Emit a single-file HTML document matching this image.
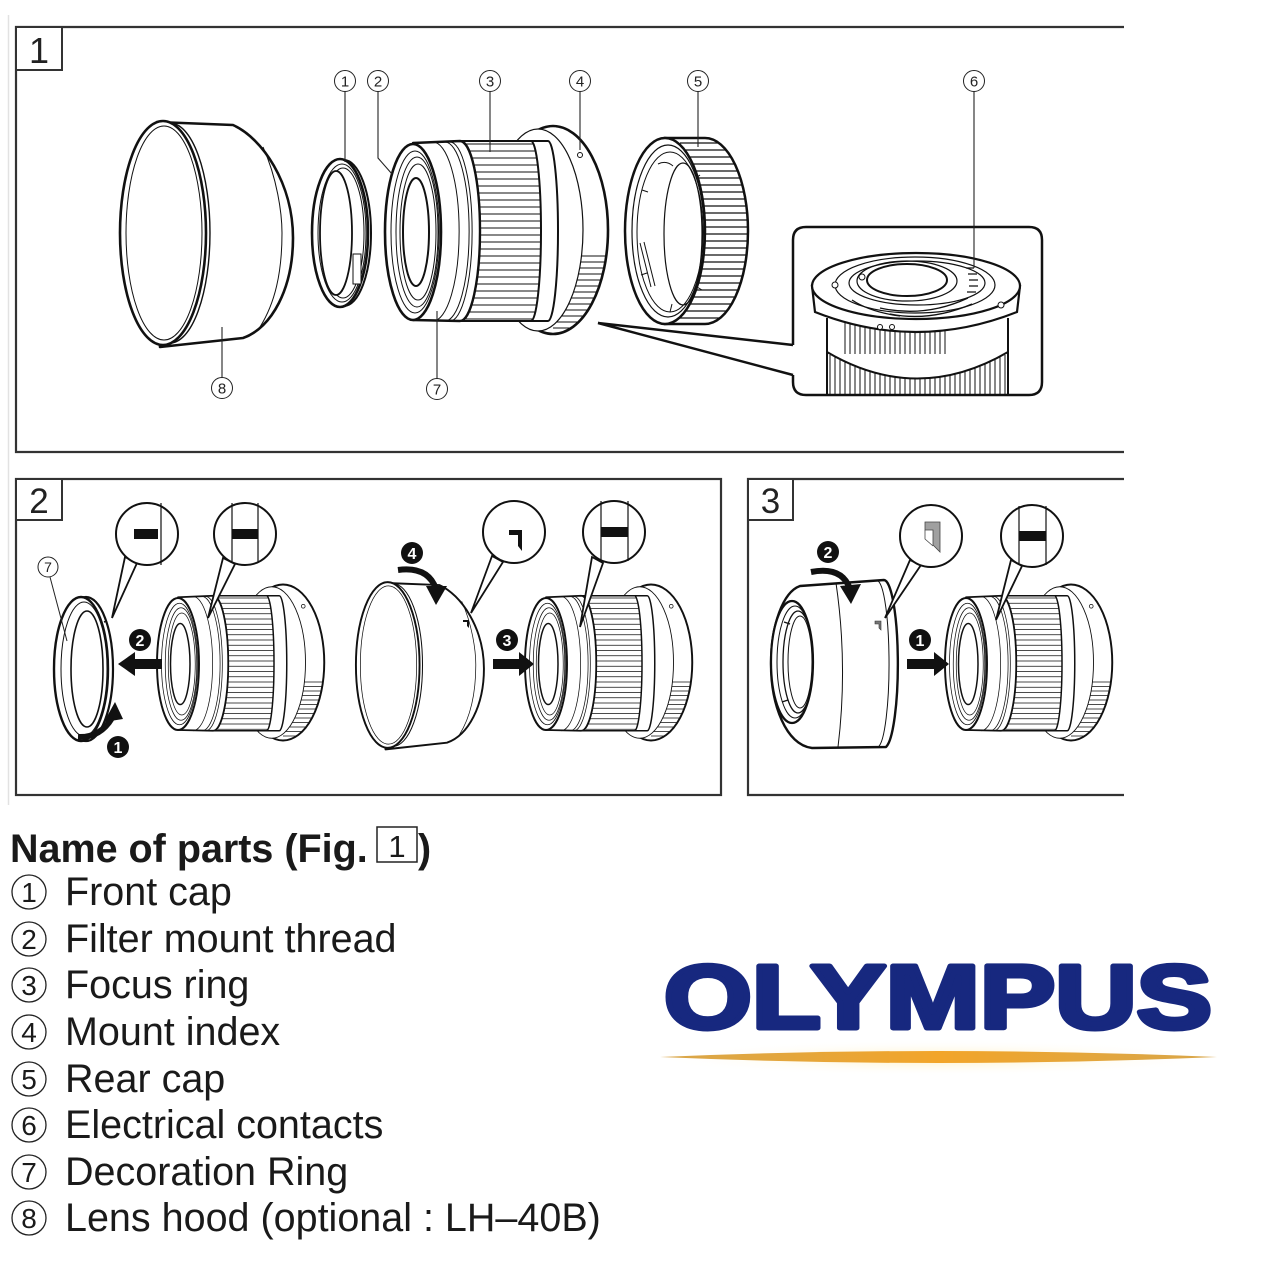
<!DOCTYPE html>
<html><head><meta charset="utf-8">
<style>
html,body{margin:0;padding:0;background:#fff;}
svg{display:block;}
</style></head>
<body>
<svg width="1264" height="1284" viewBox="0 0 1264 1284" xmlns="http://www.w3.org/2000/svg" xmlns:xlink="http://www.w3.org/1999/xlink" font-family="'Liberation Sans', Arial, sans-serif">
<defs>
  <clipPath id="frClip"><path d="M47,-91 L118,-91 A10,90 0 0 1 118,89 L47,89 A20,90 0 0 0 47,-91 Z"/></clipPath>
  <clipPath id="flClip"><ellipse cx="140" cy="-2" rx="55" ry="104"/></clipPath>
  <clipPath id="rcClip"><path d="M665,138 L705,138 A43,93 0 0 1 705,324 L665,324 Z"/></clipPath>
  <linearGradient id="gold" x1="0" x2="1" y1="0" y2="0">
    <stop offset="0" stop-color="#d8a64a"/>
    <stop offset="0.5" stop-color="#f2a52a"/>
    <stop offset="1" stop-color="#d8a64a"/>
  </linearGradient>
  <radialGradient id="glow" cx="0.5" cy="0.5" r="0.5">
    <stop offset="0" stop-color="#fff0c0"/>
    <stop offset="1" stop-color="#ffffff" stop-opacity="0"/>
  </radialGradient>

  <g id="lens" stroke="#111" fill="#fff" stroke-linejoin="round">
    <ellipse cx="140" cy="-2" rx="55" ry="104" stroke-width="2.6"/>
    <path clip-path="url(#flClip)" fill="none" stroke-width="1" d="M140 24H200M140 30H200M140 36H200M140 42H200M140 48H200M140 54H200M140 60H200M140 66H200M140 72H200M140 78H200M140 84H200M140 90H200M140 96H200"/>
    <ellipse cx="125" cy="-2" rx="45" ry="101" stroke-width="1.2"/>
    <circle cx="167" cy="-77" r="2.5" stroke-width="1"/>
    <path d="M115,-91 L135,-91 A10,90 0 0 1 135,89 L115,89 Z" stroke-width="2"/>
    <path d="M47,-91 L118,-91 A10,90 0 0 1 118,89 L47,89 A20,90 0 0 0 47,-91 Z" stroke-width="2"/>
    <path clip-path="url(#frClip)" fill="none" stroke-width="1.1" d="M45 -88H135M45 -81H135M45 -74H135M45 -67H135M45 -60H135M45 -53H135M45 -46H135M45 -39H135M45 -32H135M45 -25H135M45 -18H135M45 -11H135M45 -4H135M45 3H135M45 10H135M45 17H135M45 24H135M45 31H135M45 38H135M45 45H135M45 52H135M45 59H135M45 66H135M45 73H135M45 80H135M45 87H135"/>
    <path d="M0,-89 L47,-91 A20,90 0 0 1 47,89 L0,88 Z" stroke-width="2.4"/>
    <path fill="none" stroke-width="1" d="M20,-90 A26,89 0 0 1 20,89 M32,-90 A24,89 0 0 1 32,89 M37,-90 A22,89 0 0 1 37,89"/>
    <ellipse cx="0" cy="0" rx="28" ry="88" stroke-width="2.6"/>
    <ellipse cx="2" cy="0" rx="24" ry="81" fill="none" stroke-width="1"/>
    <ellipse cx="4" cy="0" rx="21" ry="75" fill="none" stroke-width="1"/>
    <ellipse cx="5" cy="0" rx="18" ry="68" fill="none" stroke-width="1"/>
    <ellipse cx="3" cy="0" rx="13" ry="54" fill="none" stroke-width="2"/>
  </g>

  <g id="hood" stroke="#111" fill="#fff" stroke-linejoin="round">
    <path d="M-5,-111 L71,-108 C100,-95 131,-50 131,5 C131,55 110,95 81,105 L-2,114 Z" stroke-width="2.6"/>
    <path d="M101,-86 C115,-55 120,-20 120,0 C120,40 113,70 98,94" fill="none" stroke-width="1"/>
    <path d="M8,-110 A40,110 0 0 1 8,110" fill="none" stroke-width="1.4"/>
    <ellipse cx="1" cy="0" rx="43" ry="112" stroke-width="2.6"/>
    <ellipse cx="2" cy="0" rx="38" ry="107" fill="none" stroke-width="1"/>
  </g>
</defs>

<line x1="8.5" y1="15" x2="8.5" y2="805" stroke="#e2e2e2" stroke-width="1.5"/>

<!-- FIGURE 1 -->
<path d="M1124,27 H16 V452 H1124" fill="none" stroke="#333" stroke-width="2.2"/>
<rect x="16" y="27" width="46" height="43" fill="#fff" stroke="#333" stroke-width="2"/>
<text x="39" y="63" font-size="36" text-anchor="middle" fill="#222">1</text>

<use xlink:href="#hood" href="#hood" transform="translate(162,233)"/>

<g stroke="#111" fill="#fff">
  <ellipse cx="344" cy="233" rx="27" ry="73" stroke-width="2"/>
  <ellipse cx="340" cy="233" rx="28" ry="74" stroke-width="2.6"/>
  <ellipse cx="342" cy="233" rx="24" ry="69" fill="none" stroke-width="1"/>
  <ellipse cx="343" cy="233" rx="21" ry="65" fill="none" stroke-width="1"/>
  <ellipse cx="336" cy="233" rx="16" ry="62" stroke-width="1.8"/>
  <rect x="353" y="254" width="8" height="30" stroke-width="1"/>
</g>

<use xlink:href="#lens" href="#lens" transform="translate(413,232)"/>

<g stroke="#111" fill="#fff">
  <path d="M665,138 L705,138 A43,93 0 0 1 705,324 L665,324 Z" stroke-width="2.5"/>
  <path clip-path="url(#rcClip)" fill="none" stroke-width="1.2" d="M680 143H752M680 150H752M680 157H752M680 164H752M680 171H752M680 178H752M680 185H752M680 192H752M680 199H752M680 206H752M680 213H752M680 220H752M680 227H752M680 234H752M680 241H752M680 248H752M680 255H752M680 262H752M680 269H752M680 276H752M680 283H752M680 290H752M680 297H752M680 304H752M680 311H752M680 318H752"/>
  <ellipse cx="665" cy="231" rx="40" ry="93" stroke-width="2.5"/>
  <ellipse cx="668" cy="231" rx="36" ry="86" fill="none" stroke-width="1.2"/>
  <ellipse cx="670" cy="232" rx="33" ry="80" fill="none" stroke-width="1"/>
  <ellipse cx="683" cy="234" rx="19" ry="71" fill="none" stroke-width="1.2"/>
  <path d="M640,243 L651,287 M644,242 L655,286 M658,164 Q666,160 673,166 M642,190 L648,192 M641,275 L647,273 M670,312 L672,304 M700,175 L696,178 M702,290 L697,287" fill="none" stroke-width="1"/>
</g>

<g stroke="#111">
  <path fill="none" stroke-width="1" d="M830 355V394M835 355V394M840 355V394M845 355V394M850 355V394M855 355V394M860 355V394M865 355V394M870 355V394M875 355V394M880 355V394M885 355V394M890 355V394M895 355V394M900 355V394M905 355V394M910 355V394M915 355V394M920 355V394M925 355V394M930 355V394M935 355V394M940 355V394M945 355V394M950 355V394M955 355V394M960 355V394M965 355V394M970 355V394M975 355V394M980 355V394M985 355V394M990 355V394M995 355V394M1000 355V394M1005 355V394"/>
  <path d="M826,300 V352 Q917,405 1009,352 V300 Z" fill="#fff" stroke="none"/>
  <path d="M827,352 Q917,405 1008,352" fill="none" stroke-width="2"/>
  <path d="M827,318 V394 M1008,318 V394" fill="none" stroke-width="2"/>
  <path fill="none" stroke-width="1" d="M845 322V354M850 322V354M855 322V354M860 322V354M865 322V354M870 322V354M875 322V354M880 322V354M885 322V354M890 322V354M895 322V354M900 322V354M905 322V354M910 322V354M915 322V354M920 322V354M925 322V354M930 322V354M935 322V354M940 322V354M945 322V354"/>
  <path d="M812,286 L815,312 Q916,352 1017,312 L1020,286 Z" fill="#fff" stroke-width="2.2"/>
  <ellipse cx="916" cy="286" rx="104" ry="33" fill="#fff" stroke-width="2.2"/>
  <ellipse cx="915" cy="285" rx="80" ry="28" fill="none" stroke-width="1.2"/>
  <ellipse cx="917" cy="283" rx="68" ry="22" fill="none" stroke-width="1.2"/>
  <ellipse cx="907" cy="281" rx="50" ry="20" fill="none" stroke-width="1.2"/>
  <ellipse cx="907" cy="280" rx="40" ry="16" fill="#fff" stroke-width="2"/>
  <path fill="none" stroke-width="1.3" d="M966 268h8M968 274h9M969 280h9M969 286h9M967 292h9M880 308 Q925 318 968 298 M890 314 Q930 322 972 304 M852 300 Q870 312 900 316"/>
  <circle cx="835" cy="285" r="3" fill="#fff" stroke-width="1"/>
  <circle cx="862" cy="277" r="3" fill="#fff" stroke-width="1"/>
  <circle cx="1001" cy="305" r="3" fill="#fff" stroke-width="1"/>
  <circle cx="880" cy="327" r="2.5" fill="#fff" stroke-width="1"/>
  <circle cx="892" cy="327" r="2.5" fill="#fff" stroke-width="1"/>
</g>
<path d="M793,345 V240 Q793,227 806,227 H1029 Q1042,227 1042,240 V382 Q1042,395 1029,395 H806 Q793,395 793,382 V375" fill="none" stroke="#111" stroke-width="2.5"/>
<path d="M793,345 L598,323 L793,375" fill="none" stroke="#111" stroke-width="2.5" stroke-linejoin="miter"/>

<g stroke="#222" stroke-width="1.1" fill="none">
  <path d="M345,91.5 V162"/>
  <path d="M378,91.5 V158 L392,174"/>
  <path d="M490,91.5 V152"/>
  <path d="M580,91.5 V150"/>
  <path d="M698,91.5 V147"/>
  <path d="M974,91.5 V268"/>
  <path d="M437,378.5 V311"/>
  <path d="M222,377.5 V327"/>
</g>
<g stroke="#222" stroke-width="1" fill="#fff">
  <circle cx="345" cy="81" r="10.5"/><circle cx="378" cy="81" r="10.5"/><circle cx="490" cy="81" r="10.5"/>
  <circle cx="580" cy="81" r="10.5"/><circle cx="698" cy="81" r="10.5"/><circle cx="974" cy="81" r="10.5"/>
  <circle cx="437" cy="389" r="10.5"/><circle cx="222" cy="388" r="10.5"/>
</g>
<g fill="#222" font-size="15" text-anchor="middle">
  <text x="345" y="86.5">1</text><text x="378" y="86.5">2</text><text x="490" y="86.5">3</text>
  <text x="580" y="86.5">4</text><text x="698" y="86.5">5</text><text x="974" y="86.5">6</text>
  <text x="437" y="394.5">7</text><text x="222" y="393.5">8</text>
</g>

<!-- FIGURE 2 -->
<rect x="16" y="479" width="705" height="316" fill="none" stroke="#333" stroke-width="2.2"/>
<rect x="16" y="479" width="46" height="41" fill="#fff" stroke="#333" stroke-width="2"/>
<text x="39" y="513" font-size="35" text-anchor="middle" fill="#222">2</text>

<g stroke="#111" fill="#fff">
  <ellipse cx="86" cy="669" rx="27" ry="72" stroke-width="2.2"/>
  <ellipse cx="81" cy="669" rx="27" ry="72" stroke-width="2.4"/>
  <ellipse cx="84" cy="669" rx="23" ry="67" fill="none" stroke-width="1"/>
  <ellipse cx="87" cy="669" rx="16" ry="58" fill="none" stroke-width="1.6"/>
  <path d="M104,622 l3,-1" stroke-width="1.5"/>
</g>
<line x1="50" y1="577" x2="67" y2="641" stroke="#222" stroke-width="1"/>
<circle cx="48" cy="567" r="10" fill="#fff" stroke="#222" stroke-width="1"/>
<text x="48" y="572" font-size="14" text-anchor="middle" fill="#222">7</text>

<use xlink:href="#lens" href="#lens" transform="translate(178,664) scale(0.75)"/>
<use xlink:href="#hood" href="#hood" transform="translate(387,665) scale(0.74)"/>
<path d="M463,620 h6 v8 l-2,-2 v-4 h-4 Z" fill="#111"/>
<use xlink:href="#lens" href="#lens" transform="translate(546,664) scale(0.75)"/>

<g stroke="#111" fill="#fff" stroke-width="2">
  <polygon points="125,557 137,563 112,618" stroke-width="1.8"/>
  <circle cx="147" cy="534" r="31"/>
  <polygon points="223,558 235,564 208,618" stroke-width="1.8"/>
  <circle cx="245" cy="534" r="31"/>
  <polygon points="492,556 503,562 471,613" stroke-width="1.8"/>
  <circle cx="514" cy="532" r="31"/>
  <polygon points="592,557 603,563 580,627" stroke-width="1.8"/>
  <circle cx="614" cy="532" r="31"/>
</g>
<g fill="#111" stroke="#111">
  <rect x="134" y="529" width="24" height="10" stroke="none"/>
  <line x1="161" y1="503" x2="161" y2="565" stroke-width="1.2"/>
  <line x1="232" y1="503" x2="232" y2="563" stroke-width="1.2"/>
  <line x1="258" y1="503" x2="258" y2="563" stroke-width="1.2"/>
  <rect x="232" y="529" width="26" height="10" stroke="none"/>
  <path d="M509,530 H522 V551 L518,546 V535 H509 Z" stroke="none"/>
  <line x1="601" y1="501" x2="601" y2="561" stroke-width="1.2"/>
  <line x1="628" y1="501" x2="628" y2="561" stroke-width="1.2"/>
  <rect x="601" y="527" width="27" height="10" stroke="none"/>
</g>

<g fill="#111">
  <rect x="133" y="659" width="29" height="10"/>
  <polygon points="118,664 135,652 135,676"/>
  <rect x="493" y="659" width="28" height="10"/>
  <polygon points="534,664 519,652 519,676"/>
  <polygon points="426,586 447,586 436,605"/>
  <polygon points="104,722 123,719 115,702"/>
</g>
<path d="M398,570 Q428,566 436,589" fill="none" stroke="#111" stroke-width="6"/>
<path d="M78,737 Q100,738 112,718" fill="none" stroke="#111" stroke-width="6"/>
<g fill="#111">
  <circle cx="140" cy="640" r="11"/>
  <circle cx="118" cy="747" r="11"/>
  <circle cx="412" cy="553" r="11"/>
  <circle cx="507" cy="640" r="11"/>
</g>
<g fill="#fff" font-size="16" font-weight="bold" text-anchor="middle">
  <text x="140" y="646">2</text>
  <text x="118" y="753">1</text>
  <text x="412" y="559">4</text>
  <text x="507" y="646">3</text>
</g>

<!-- FIGURE 3 -->
<path d="M1124,479 H748 V795 H1124" fill="none" stroke="#333" stroke-width="2.2"/>
<rect x="748" y="479" width="45" height="41" fill="#fff" stroke="#333" stroke-width="2"/>
<text x="770.5" y="513" font-size="35" text-anchor="middle" fill="#222">3</text>

<g stroke="#111" fill="#fff" stroke-linejoin="round">
  <path d="M800,586 L884,580 A14,84 0 0 1 886,747 L812,748 C786,745 771,705 771,664 C771,625 783,592 800,586 Z" stroke-width="2.4"/>
  <path d="M876,581 A12,83 0 0 1 878,747" fill="none" stroke-width="1"/>
  <path d="M836,583 Q848,665 838,747" fill="none" stroke-width="1"/>
  <ellipse cx="792" cy="662" rx="21" ry="61" stroke-width="2.2"/>
  <ellipse cx="795" cy="662" rx="18" ry="56" fill="none" stroke-width="1"/>
  <ellipse cx="798" cy="662" rx="15" ry="51" fill="none" stroke-width="1.3"/>
  <ellipse cx="800" cy="662" rx="12" ry="46" fill="none" stroke-width="1"/>
  <path d="M784,622 l6,2 M782,702 l6,-2" fill="none" stroke-width="1.4"/>
</g>
<path d="M875,621 h6 v9 l-2,-2 v-4 h-4 Z" fill="#777" stroke="#333" stroke-width="0.6"/>

<use xlink:href="#lens" href="#lens" transform="translate(966,664) scale(0.75)"/>

<g stroke="#111" fill="#fff" stroke-width="2">
  <polygon points="910,560 921,565 885,618" stroke-width="1.8"/>
  <circle cx="931" cy="536" r="31"/>
  <polygon points="1011,560 1022,566 996,620" stroke-width="1.8"/>
  <circle cx="1032" cy="536" r="31"/>
</g>
<path d="M925,522 H940 V552 L933,545 V530 H925 Z" fill="#a0a0a0" stroke="#444" stroke-width="0.8"/>
<path d="M925,530 V539 L933,546" fill="none" stroke="#444" stroke-width="0.8"/>
<g stroke="#111">
  <line x1="1019" y1="506" x2="1019" y2="565" stroke-width="1.2"/>
  <line x1="1046" y1="506" x2="1046" y2="565" stroke-width="1.2"/>
  <rect x="1019" y="531" width="27" height="10" fill="#111" stroke="none"/>
</g>

<g fill="#111">
  <rect x="907" y="659" width="28" height="10"/>
  <polygon points="949,664 934,652 934,676"/>
  <polygon points="840,586 861,584 851,604"/>
  <circle cx="828" cy="552" r="11"/>
  <circle cx="920" cy="640" r="11"/>
</g>
<path d="M811,572 Q842,566 850,589" fill="none" stroke="#111" stroke-width="6"/>
<g fill="#fff" font-size="16" font-weight="bold" text-anchor="middle">
  <text x="828" y="558">2</text>
  <text x="920" y="646">1</text>
</g>

<!-- TEXT LIST -->
<text x="10" y="862" font-size="39.5" font-weight="bold" fill="#1a1a1a">Name of parts (Fig.</text>
<rect x="377" y="827" width="40" height="35" fill="none" stroke="#222" stroke-width="1.5"/>
<text x="397" y="857" font-size="31" text-anchor="middle" fill="#1a1a1a">1</text>
<text x="418" y="862" font-size="39.5" font-weight="bold" fill="#1a1a1a">)</text>

<g fill="none" stroke="#222" stroke-width="1.3">
  <circle cx="29" cy="892" r="17"/>
  <circle cx="29" cy="939" r="17"/>
  <circle cx="29" cy="985" r="17"/>
  <circle cx="29" cy="1032" r="17"/>
  <circle cx="29" cy="1079" r="17"/>
  <circle cx="29" cy="1125" r="17"/>
  <circle cx="29" cy="1172" r="17"/>
  <circle cx="29" cy="1218" r="17"/>
</g>
<g fill="#1a1a1a" font-size="28" text-anchor="middle">
  <text x="29" y="902">1</text>
  <text x="29" y="949">2</text>
  <text x="29" y="995">3</text>
  <text x="29" y="1042">4</text>
  <text x="29" y="1089">5</text>
  <text x="29" y="1135">6</text>
  <text x="29" y="1182">7</text>
  <text x="29" y="1228">8</text>
</g>
<g fill="#1a1a1a" font-size="39.5">
  <text x="65" y="905">Front cap</text>
  <text x="65" y="952">Filter mount thread</text>
  <text x="65" y="998">Focus ring</text>
  <text x="65" y="1045">Mount index</text>
  <text x="65" y="1092">Rear cap</text>
  <text x="65" y="1138">Electrical contacts</text>
  <text x="65" y="1185">Decoration Ring</text>
  <text x="65" y="1231">Lens hood (optional : LH–40B)</text>
</g>

<!-- LOGO -->
<ellipse cx="938" cy="1058" rx="290" ry="18" fill="url(#glow)"/>
<text x="664" y="1028" font-size="90" font-weight="bold" fill="#17287f" stroke="#17287f" stroke-width="5" stroke-linejoin="round" textLength="548" lengthAdjust="spacingAndGlyphs">OLYMPUS</text>
<path d="M660,1057 Q938,1045 1217,1057 Q938,1069 660,1057 Z" fill="url(#gold)"/>
</svg>
</body></html>
